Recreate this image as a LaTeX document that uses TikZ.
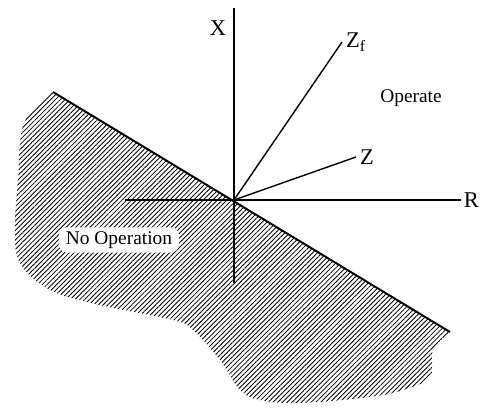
\documentclass[tikz,border=0pt]{standalone}
\usepackage{fontspec}
\setmainfont{Liberation Serif}
\usetikzlibrary{positioning,patterns.meta}

\begin{document}
\begin{tikzpicture}[line width=1pt, font=\fontsize{13.8}{16}\selectfont,
    hatch/.style={pattern={Lines[angle=45,distance=2.4pt,line width=0.6pt]}},
    lbl/.style={inner sep=1.5pt, font=\fontsize{16}{18}\selectfont}]
    \useasboundingbox (-5.85,-5.2) rectangle (6.15,5);

    % no operation region
    \path[hatch] plot[smooth, tension=0.6] coordinates {(-4.525,2.7) (-5.25,1.925) (-5.4,0.5) (-5.475,-0.75)
        (-5.35,-1.575) (-4.6,-2.25) (-3.35,-2.625) (-1.525,-3.0) (-1.025,-3.25) (-0.35,-4.0) (0.15,-4.75)
        (0.65,-5.0) (1.65,-5.075) (3.4,-4.925) (4.225,-4.75) (4.9,-4.425) (4.975,-3.75) (5.4,-3.3)} -- cycle;
    \node[fill=white, rounded corners=6pt, inner xsep=5pt, inner ysep=3pt] (noop) at (-2.875,-1.0) {No Operation};

    \coordinate (O) at (0,0);
    \coordinate (xtop) at (0,4.8);
    \coordinate (xbot) at (0,-2.075);
    \coordinate (rleft) at (-2.725,0);
    \coordinate (rright) at (5.675,0);
    \coordinate (zf) at (2.7,3.95);
    \coordinate (z) at (3.05,1.075);
    \coordinate (b1) at (-4.525,2.7);
    \coordinate (b2) at (5.4,-3.3);

    \draw (xbot) -- (xtop);
    \draw (rleft) -- (rright);
    \draw (O) -- (zf);
    \draw (O) -- (z);
    \draw[line width=1.4pt] (b1) -- (b2);

    \node[lbl] (xlbl) at (-0.4,4.3) {X};
    \node[lbl, right=0pt of rright] (rlbl) {R};
    \node[lbl, right=1pt of zf] (zflbl) {Z\textsubscript{f}};
    \node[lbl, right=1pt of z] (zlbl) {Z};
    \node (op) at (4.425,2.55) {Operate};
\end{tikzpicture}
\end{document}
